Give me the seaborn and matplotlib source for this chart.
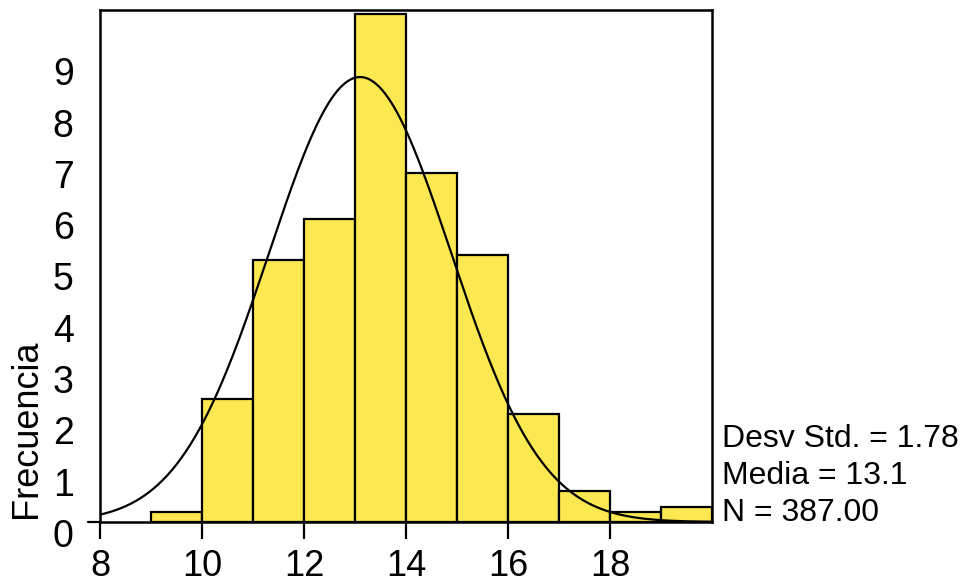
import numpy as np
import pandas as pd
import seaborn as sns
import matplotlib.pyplot as plt
import matplotlib.transforms as mtransforms

# bins (ancho 1) y frecuencias
bin_edges = [9, 10, 11, 12, 13, 14, 15, 16, 17, 18, 19, 20]
frecuencias = [2, 24, 51, 59, 99, 68, 52, 21, 6, 2, 3]

media = 13.1
desv_std = 1.78
n_total = 387

x_ticks = [8, 10, 12, 14, 16, 18]
y_ticks = [0, 10, 20, 30, 40, 50, 60, 70, 80, 90]
y_labels = ["0", "1", "2", "3", "4", "5", "6", "7", "8", "9"]
stats_lines = [f"Desv Std. = {desv_std:.2f}", f"Media = {media:.1f}", f"N = {n_total:.2f}"]

sns.set_style("ticks")
plt.rcParams["font.family"] = ["Liberation Sans", "DejaVu Sans"]
plt.rcParams["text.color"] = "black"
plt.rcParams["xtick.color"] = "black"
plt.rcParams["ytick.color"] = "black"
plt.rcParams["xtick.labelcolor"] = "black"
plt.rcParams["ytick.labelcolor"] = "black"

edges = np.array(bin_edges, dtype=float)
df = pd.DataFrame({"valor": (edges[:-1] + edges[1:]) / 2, "frecuencia": frecuencias})

fig = plt.figure(figsize=(9.68, 5.84), dpi=100)
ax = fig.add_axes([100 / 968, 62 / 584, 612 / 968, 512 / 584])

sns.histplot(data=df, x="valor", weights="frecuencia", bins=bin_edges,
             color="#FCE850", edgecolor="black", linewidth=1.6, alpha=1, ax=ax)

# curva normal con la media y desviacion del grafico
xs = np.linspace(8, 20, 400)
ys = n_total * 1.0 * np.exp(-0.5 * ((xs - media) / desv_std) ** 2) / (desv_std * np.sqrt(2 * np.pi))
sns.lineplot(x=xs, y=ys, color="black", linewidth=1.6, ax=ax)

ax.set_xlim(8, 20)
ax.set_ylim(0, 512 / 5.13)
ax.set_xlabel("")
ax.set_ylabel("")

ax.set_xticks(x_ticks)
ax.set_xticklabels([str(t) for t in x_ticks])
ax.set_yticks(y_ticks)
ax.set_yticklabels(y_labels)
ax.tick_params(axis="x", length=12.5, width=1.6, pad=7, labelsize=26, color="black", labelcolor="black")
ax.tick_params(axis="y", length=0, pad=19, labelsize=27, labelcolor="black")

off = mtransforms.ScaledTranslation(0, -11 / 100, fig.dpi_scale_trans)
for lbl in ax.get_yticklabels():
    lbl.set_transform(lbl.get_transform() + off)

for sp in ax.spines.values():
    sp.set_linewidth(1.8)
    sp.set_color("black")

ax.axhline(0, xmin=-12 / 612, xmax=0, color="black", linewidth=1.6, clip_on=False)

fig.text(27 / 968, 1 - 518 / 584, "Frecuencia", rotation=90, ha="center", va="bottom",
         fontsize=26, color="black")

for i, line in enumerate(stats_lines):
    fig.text(722 / 968, 1 - (447 + 37 * i) / 584, line, ha="left", va="baseline",
             fontsize=23, color="black")

fig.savefig("out.png", dpi=100)
